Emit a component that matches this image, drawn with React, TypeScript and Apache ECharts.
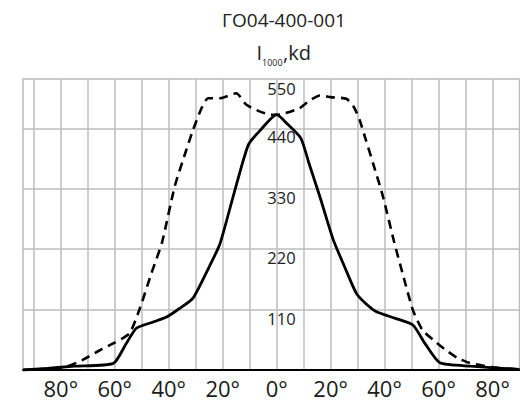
import React, { useEffect, useRef } from "react";
import * as echarts from "echarts";

const TITLE = "ГО04-400-001";
const UNIT_MAIN = "I";
const UNIT_SUB = "1000";
const UNIT_TAIL = ",kd";

const xTickValues = [-90, -80, -70, -60, -50, -40, -30, -20, -10, 0, 10, 20, 30, 40, 50, 60, 70, 80, 90];
const xLabelValues = [-80, -60, -40, -20, 0, 20, 40, 60, 80];
const yTickValues = [0, 110, 220, 330, 440];
const yLabelValues = [110, 220, 330, 440];
const yTopLabel = "550";

const solidAngles = [-94, -85, -75, -60.5, -56, -52, -46, -41, -36, -31, -25, -21, -16, -10.5, -6, 0, 4, 9, 12, 16, 21, 25, 29.5, 33, 37, 44, 50.5, 55, 60.5, 72, 90];
const solidValues = [0, 3, 7, 12, 46, 76, 87, 96, 112, 131, 188, 230, 318, 410, 437, 465, 448, 422, 376, 316, 237, 190, 140, 121, 106, 94, 82, 48, 13, 7, 1];

const dashedAngles = [-94, -85, -78, -72, -65.5, -60, -54.5, -50.5, -46.5, -42.5, -37.8, -34, -31, -28, -25.4, -21, -15, -11.2, -6.3, -2, 0, 2, 8.5, 12, 16, 20, 25.8, 28.5, 30.7, 33, 35.7, 39.4, 43.5, 47, 50.5, 54, 58, 62.8, 67, 71.5, 80, 90];
const dashedValues = [0, 2, 6, 18, 36, 50, 67, 115, 175, 232, 334, 393, 437, 475, 495, 495, 504, 483, 471, 465, 465, 466, 477, 490, 500, 497, 494, 480, 456, 420, 377, 316, 234, 170, 109, 73, 55, 36, 22, 13, 5, 1];

const FONT = "'Open Sans', 'Noto Sans', sans-serif";
const GRID_COLOR = "#bcbcbc";

export default function App() {
  const ref = useRef<HTMLDivElement>(null);

  useEffect(() => {
    if (!ref.current) return;
    const chart = echarts.init(ref.current, undefined, { renderer: "svg" });
    const solid = solidAngles.map((a, i) => [a, solidValues[i]]);
    const dashed = dashedAngles.map((a, i) => [a, dashedValues[i]]);
    chart.setOption({
      animation: false,
      backgroundColor: "#ffffff",
      grid: {
        left: 23,
        right: 0.5,
        top: 79,
        bottom: 32,
        show: true,
        borderColor: GRID_COLOR,
        borderWidth: 1.5,
        containLabel: false,
        outerBoundsMode: "none",
      },
      xAxis: {
        type: "value",
        min: -94,
        max: 90,
        axisLine: { show: true, onZero: false, lineStyle: { color: "#000", width: 2 } },
        axisTick: { show: false, customValues: xTickValues },
        axisLabel: {
          customValues: xLabelValues,
          formatter: (v: number) => Math.abs(v) + "°",
          fontSize: 22,
          lineHeight: 24,
          color: "#1a1a1a",
          margin: 6,
          fontFamily: FONT,
        },
        splitLine: { show: true, lineStyle: { color: GRID_COLOR, width: 1.5 } },
      },
      yAxis: {
        type: "value",
        min: 0,
        max: 530,
        position: "left",
        offset: -254,
        axisLine: { show: false, onZero: false },
        axisTick: { show: false, customValues: yTickValues },
        axisLabel: {
          customValues: yLabelValues,
          align: "center",
          verticalAlign: "top",
          margin: -4.5,
          fontSize: 16.5,
          color: "#222",
          fontFamily: FONT,
        },
        splitLine: { show: true, lineStyle: { color: GRID_COLOR, width: 1.5 } },
      },
      series: [
        {
          type: "line",
          data: dashed,
          symbol: "none",
          smooth: 0.2,
          lineStyle: { color: "#000", width: 2.6, type: [9, 6] },
          z: 3,
        },
        {
          type: "line",
          data: solid,
          symbol: "none",
          smooth: 0.2,
          lineStyle: { color: "#000", width: 2.8 },
          z: 4,
        },
      ],
      graphic: [
        {
          type: "text",
          x: 284,
          y: 20,
          style: { text: TITLE, font: `19px ${FONT}`, fill: "#222", textAlign: "center", textVerticalAlign: "middle" },
        },
        {
          type: "text",
          x: 256.5,
          y: 52,
          style: { text: UNIT_MAIN, font: `20px ${FONT}`, fill: "#222", textAlign: "left", textVerticalAlign: "middle" },
        },
        {
          type: "text",
          x: 262,
          y: 62,
          style: { text: UNIT_SUB, font: `9px ${FONT}`, fill: "#222", textAlign: "left", textVerticalAlign: "middle" },
        },
        {
          type: "text",
          x: 283,
          y: 52,
          style: { text: UNIT_TAIL, font: `20px ${FONT}`, fill: "#222", textAlign: "left", textVerticalAlign: "middle" },
        },
        {
          type: "text",
          x: 281.5,
          y: 80,
          style: { text: yTopLabel, font: `16.5px ${FONT}`, fill: "#222", textAlign: "center", textVerticalAlign: "top" },
        },
      ],
    });
    return () => chart.dispose();
  }, []);

  return <div ref={ref} style={{ position: "fixed", left: 0, top: 0, width: 520, height: 402 }} />;
}
